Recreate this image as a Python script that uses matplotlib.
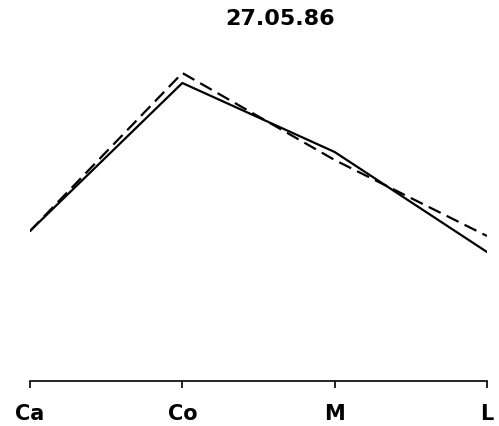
import matplotlib
matplotlib.use("Agg")
import matplotlib.pyplot as plt

# stations along the transect and the two measured profiles
stations = ["Ca", "Co", "M", "L"]
profile_solid = [1.50, 2.98, 2.29, 1.29]
profile_dashed = [1.50, 3.08, 2.21, 1.45]
date_label = "27.05.86"

plt.rcParams['font.family'] = ['DejaVu Sans']

fig = plt.figure(figsize=(4.99, 4.27), dpi=100)
ax = fig.add_axes([30 / 499, 45 / 427, 457 / 499, 342 / 427])

x = range(len(stations))
ax.plot(x, profile_solid, color="black", lw=1.6, solid_capstyle="round")
ax.plot(x, profile_dashed, color="black", lw=1.6, dashes=(6, 3))

ax.set_xlim(0, len(stations) - 1)
ax.set_ylim(0, 3.42)

# only the bottom axis is drawn
for side in ["left", "right", "top"]:
    ax.spines[side].set_visible(False)
ax.spines["bottom"].set_linewidth(1.2)
ax.set_yticks([])
ax.set_xticks(list(x))
ax.set_xticklabels(stations, fontsize=15, fontweight="bold")
ax.tick_params(axis="x", direction="out", length=5, width=1.2, pad=11)

fig.text(280 / 499, 1 - 19 / 427, date_label, ha="center", va="center",
         fontsize=16, fontweight="bold")

fig.savefig("out.png", dpi=100, facecolor="white")
